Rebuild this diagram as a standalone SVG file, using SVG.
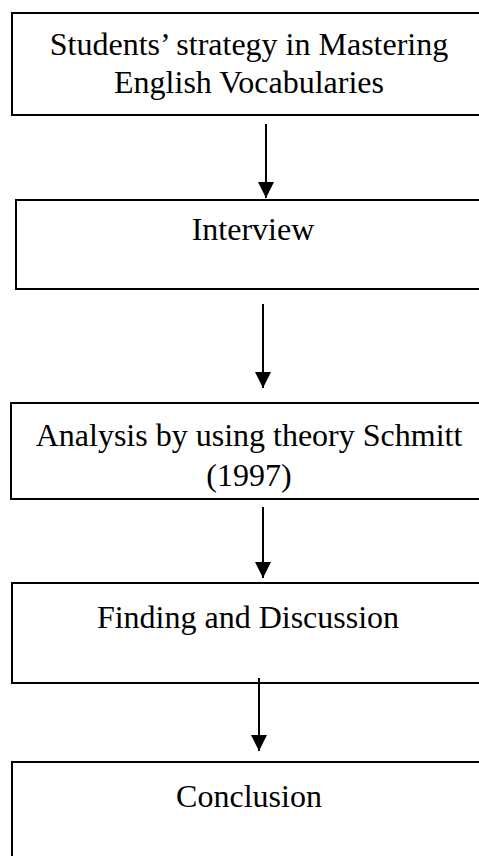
<svg xmlns="http://www.w3.org/2000/svg" width="479" height="856" viewBox="0 0 479 856">
<style>
.box{fill:#fff;stroke:#000;stroke-width:2}
.t{font-family:"Liberation Serif","Times New Roman",serif;font-size:32px;fill:#000;text-anchor:middle}
.c{stroke:#000;stroke-width:2;fill:none}
</style>
<defs>
<marker id="ah" markerWidth="8" markerHeight="8" refX="8" refY="4" orient="auto" markerUnits="strokeWidth">
<path d="M0,0 L8,4 L0,8 Z" fill="#000"/>
</marker>
</defs>
<rect width="479" height="856" fill="#fff"/>
<g id="n1">
<rect class="box" x="12" y="13" width="480" height="102"/>
<text class="t" x="249" y="55">Students’ strategy in Mastering</text>
<text class="t" x="249" y="93">English Vocabularies</text>
</g>
<g id="n2">
<rect class="box" x="16" y="200" width="480" height="89"/>
<text class="t" x="253" y="240">Interview</text>
</g>
<g id="n3">
<rect class="box" x="11" y="403" width="480" height="96"/>
<text class="t" x="249" y="446">Analysis by using theory Schmitt</text>
<text class="t" x="249" y="486">(1997)</text>
</g>
<g id="n4">
<rect class="box" x="12" y="583" width="480" height="100"/>
<text class="t" x="248" y="628">Finding and Discussion</text>
</g>
<g id="n5">
<rect class="box" x="12" y="762" width="480" height="110"/>
<text class="t" x="249" y="807">Conclusion</text>
</g>
<g id="connectors">
<line class="c" x1="266" y1="124" x2="266" y2="198" marker-end="url(#ah)"/>
<line class="c" x1="263" y1="304" x2="263" y2="388" marker-end="url(#ah)"/>
<line class="c" x1="263" y1="507" x2="263" y2="578" marker-end="url(#ah)"/>
<line class="c" x1="259" y1="678" x2="259" y2="751" marker-end="url(#ah)"/>
</g>
</svg>
